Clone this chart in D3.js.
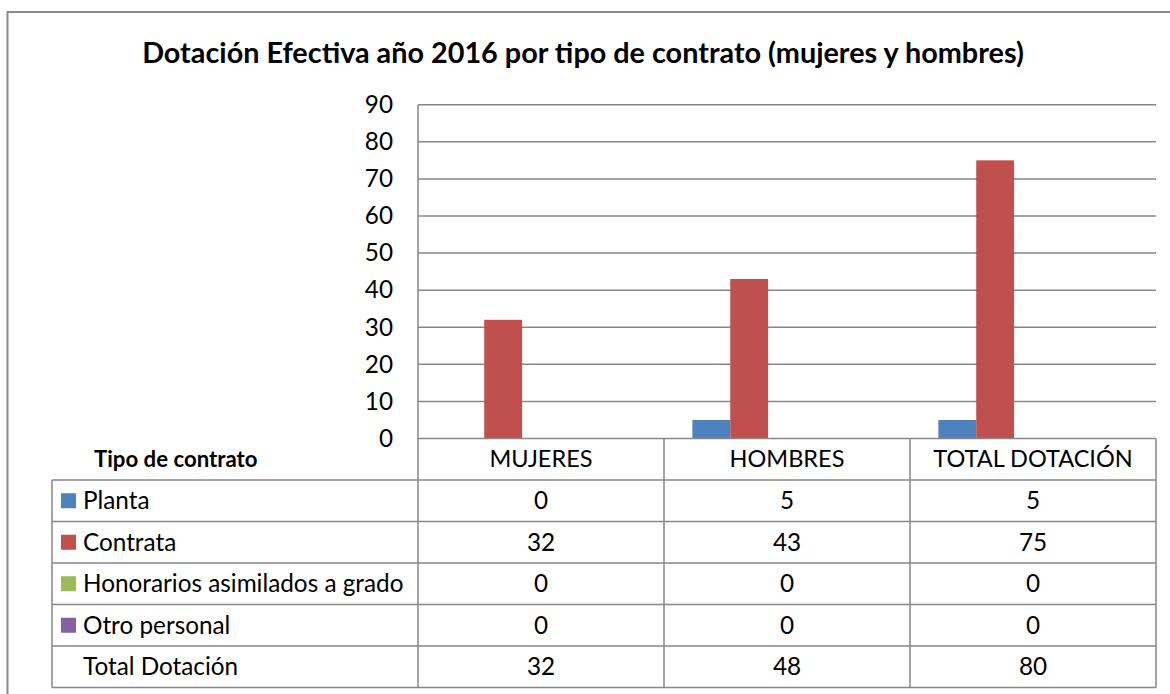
<!DOCTYPE html>
<html>
<head>
<meta charset="utf-8">
<script src="https://cdn.jsdelivr.net/npm/d3@7/dist/d3.min.js"></script>
<style>
  body { margin: 0; background: #fff; }
  svg text { font-family: Lato, "Open Sans", sans-serif; fill: #000; }
</style>
</head>
<body>
<div id="chart"></div>
<script>
// data
const categories = ["MUJERES", "HOMBRES", "TOTAL DOTACIÓN"];
const seriesNames = ["Planta", "Contrata", "Honorarios asimilados a grado", "Otro personal", "Total Dotación"];
const planta = [0, 5, 5];
const contrata = [32, 43, 75];
const honorarios = [0, 0, 0];
const otroPersonal = [0, 0, 0];
const totalDotacion = [32, 48, 80];
const seriesColors = ["#4F81BD", "#C0504D", "#9BBB59", "#8064A2", null];
const yTicks = [0, 10, 20, 30, 40, 50, 60, 70, 80, 90];
const titleText = "Dotación Efectiva año 2016 por tipo de contrato (mujeres y hombres)";
const tableHeader = "Tipo de contrato";

const seriesValues = [planta, contrata, honorarios, otroPersonal, totalDotacion];

const W = 1170, H = 694;
const plot = { left: 418, right: 1156, top: 104.7, bottom: 438.5 };
const tableLeft = 52;
const rowH = 41.5;
const gridColor = "#878787";
const fontSize = 24.3;

const svg = d3.select("#chart").append("svg")
    .attr("width", W)
    .attr("height", H);

// outer chart border (runs past the right and bottom of the picture)
svg.append("rect")
    .attr("x", 7.5).attr("y", 12)
    .attr("width", W + 20).attr("height", H + 20)
    .attr("fill", "none")
    .attr("stroke", "#8a8a8a")
    .attr("stroke-width", 2);

// title
svg.append("text")
    .attr("x", 583)
    .attr("y", 63)
    .attr("text-anchor", "middle")
    .attr("font-size", 28.8)
    .attr("font-weight", "bold")
    .text(titleText);

const x = d3.scaleBand().domain(categories).range([plot.left, plot.right]).paddingInner(0).paddingOuter(0);
const xs = d3.scaleBand().domain(seriesNames).range([0, x.bandwidth()]).paddingInner(0).paddingOuter(0.75);
const y = d3.scaleLinear().domain([0, 90]).range([plot.bottom, plot.top]);

// gridlines
svg.append("g")
    .selectAll("line")
    .data(yTicks.slice(1))
    .join("line")
    .attr("x1", plot.left).attr("x2", plot.right)
    .attr("y1", d => y(d)).attr("y2", d => y(d))
    .attr("stroke", gridColor)
    .attr("stroke-width", 1.5);

// y axis labels
const yAxis = svg.append("g")
    .attr("transform", `translate(${plot.left},0)`)
    .call(d3.axisLeft(y).tickValues(yTicks).tickSize(0).tickPadding(25));
yAxis.select(".domain").remove();
yAxis.selectAll("text")
    .attr("font-size", fontSize)
    .attr("font-family", "Lato, sans-serif")
    .attr("fill", "#000");

// bars
seriesNames.forEach((s, si) => {
    if (!seriesColors[si]) return;
    svg.append("g")
        .attr("fill", seriesColors[si])
        .selectAll("rect")
        .data(categories.map((c, ci) => ({ cat: c, v: seriesValues[si][ci] })))
        .join("rect")
        .attr("x", d => x(d.cat) + xs(s))
        .attr("y", d => y(d.v))
        .attr("width", xs.bandwidth())
        .attr("height", d => y(0) - y(d.v));
});

// data table
const rowTop = i => plot.bottom + rowH * (i + 1);
const tableBottom = rowTop(seriesNames.length);
const tbl = svg.append("g").attr("stroke", gridColor).attr("stroke-width", 1.5);

// baseline / header top
tbl.append("line")
    .attr("x1", plot.left).attr("x2", plot.right)
    .attr("y1", plot.bottom).attr("y2", plot.bottom);
// row lines
tbl.selectAll(".row")
    .data(d3.range(seriesNames.length + 1))
    .join("line")
    .attr("x1", tableLeft).attr("x2", plot.right)
    .attr("y1", i => rowTop(i)).attr("y2", i => rowTop(i));
// left edge of the table
tbl.append("line")
    .attr("x1", tableLeft).attr("x2", tableLeft)
    .attr("y1", rowTop(0)).attr("y2", tableBottom);
// value axis line runs down through the table
tbl.append("line")
    .attr("x1", plot.left).attr("x2", plot.left)
    .attr("y1", plot.top).attr("y2", tableBottom);
// category column separators
tbl.selectAll(".col")
    .data(categories)
    .join("line")
    .attr("x1", d => x(d) + x.bandwidth()).attr("x2", d => x(d) + x.bandwidth())
    .attr("y1", plot.bottom).attr("y2", tableBottom);

// header texts
svg.append("text")
    .attr("x", 94)
    .attr("y", plot.bottom + rowH / 2)
    .attr("dy", "0.35em")
    .attr("font-size", 22.2)
    .attr("font-weight", "bold")
    .text(tableHeader);

svg.append("g")
    .selectAll("text")
    .data(categories)
    .join("text")
    .attr("x", d => x(d) + x.bandwidth() / 2)
    .attr("y", plot.bottom + rowH / 2)
    .attr("dy", "0.35em")
    .attr("text-anchor", "middle")
    .attr("font-size", 23.5)
    .text(d => d);

// rows: legend key, name, values
seriesNames.forEach((s, si) => {
    const cy = rowTop(si) + rowH / 2;
    if (seriesColors[si]) {
        svg.append("rect")
            .attr("x", 61).attr("y", cy - 7.5)
            .attr("width", 15).attr("height", 15)
            .attr("fill", seriesColors[si]);
    }
    svg.append("text")
        .attr("x", 83)
        .attr("y", cy)
        .attr("dy", "0.35em")
        .attr("font-size", fontSize)
        .text(s);
    svg.append("g")
        .selectAll("text")
        .data(seriesValues[si])
        .join("text")
        .attr("x", (d, ci) => x(categories[ci]) + x.bandwidth() / 2)
        .attr("y", cy)
        .attr("dy", "0.35em")
        .attr("text-anchor", "middle")
        .attr("font-size", fontSize)
        .text(d => d);
});
</script>
</body>
</html>
